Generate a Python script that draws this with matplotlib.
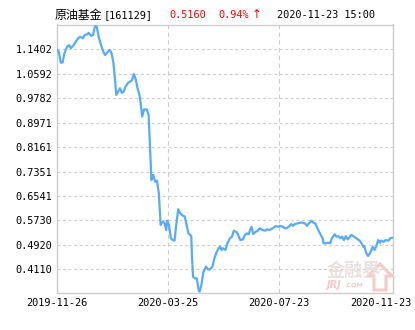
import numpy as np
import pandas as pd
import matplotlib
matplotlib.use('Agg')
import matplotlib.pyplot as plt
from matplotlib.patches import Polygon
from matplotlib.transforms import ScaledTranslation

# net value of 原油基金
dates = [
    '2019-11-26', '2019-11-28', '2019-11-30', '2019-12-02', '2019-12-04', '2019-12-07', '2019-12-09',
    '2019-12-11', '2019-12-14', '2019-12-17', '2019-12-19', '2019-12-21', '2019-12-24', '2019-12-26',
    '2019-12-29', '2019-12-30', '2020-01-02', '2020-01-04', '2020-01-06', '2020-01-08', '2020-01-10',
    '2020-01-12', '2020-01-15', '2020-01-17', '2020-01-20', '2020-01-22', '2020-01-24', '2020-01-26',
    '2020-01-28', '2020-01-29', '2020-01-31', '2020-02-02', '2020-02-04', '2020-02-06', '2020-02-08',
    '2020-02-11', '2020-02-13', '2020-02-15', '2020-02-17', '2020-02-19', '2020-02-21', '2020-02-23',
    '2020-02-24', '2020-02-26', '2020-02-28', '2020-03-02', '2020-03-04', '2020-03-05', '2020-03-06',
    '2020-03-07', '2020-03-09', '2020-03-11', '2020-03-13', '2020-03-15', '2020-03-16', '2020-03-17',
    '2020-03-19', '2020-03-21', '2020-03-23', '2020-03-24', '2020-03-26', '2020-03-28', '2020-03-30',
    '2020-04-01', '2020-04-03', '2020-04-05', '2020-04-07', '2020-04-10', '2020-04-12', '2020-04-14',
    '2020-04-16', '2020-04-19', '2020-04-20', '2020-04-21', '2020-04-23', '2020-04-25', '2020-04-27',
    '2020-04-28', '2020-04-30', '2020-05-02', '2020-05-05', '2020-05-07', '2020-05-09', '2020-05-12',
    '2020-05-14', '2020-05-16', '2020-05-18', '2020-05-20', '2020-05-22', '2020-05-23', '2020-05-26',
    '2020-05-28', '2020-05-31', '2020-06-02', '2020-06-04', '2020-06-07', '2020-06-08', '2020-06-11',
    '2020-06-14', '2020-06-16', '2020-06-18', '2020-06-20', '2020-06-23', '2020-06-25', '2020-06-27',
    '2020-06-30', '2020-07-02', '2020-07-05', '2020-07-08', '2020-07-10', '2020-07-12', '2020-07-15',
    '2020-07-17', '2020-07-19', '2020-07-22', '2020-07-24', '2020-07-27', '2020-07-29', '2020-07-31',
    '2020-08-03', '2020-08-05', '2020-08-07', '2020-08-09', '2020-08-12', '2020-08-15', '2020-08-18',
    '2020-08-20', '2020-08-22', '2020-08-24', '2020-08-27', '2020-08-29', '2020-08-31', '2020-09-02',
    '2020-09-04', '2020-09-06', '2020-09-08', '2020-09-09', '2020-09-11', '2020-09-14', '2020-09-16',
    '2020-09-18', '2020-09-21', '2020-09-23', '2020-09-25', '2020-09-27', '2020-09-29', '2020-10-01',
    '2020-10-03', '2020-10-05', '2020-10-07', '2020-10-09', '2020-10-12', '2020-10-13', '2020-10-16',
    '2020-10-18', '2020-10-20', '2020-10-22', '2020-10-23', '2020-10-25', '2020-10-27', '2020-10-29',
    '2020-10-31', '2020-11-01', '2020-11-03', '2020-11-05', '2020-11-07', '2020-11-09', '2020-11-10',
    '2020-11-13', '2020-11-15', '2020-11-18', '2020-11-20', '2020-11-23',
]
nav = [
    1.138, 1.132, 1.096, 1.096, 1.127, 1.149, 1.154,
    1.144, 1.154, 1.169, 1.177, 1.182, 1.177, 1.188,
    1.190, 1.195, 1.185, 1.188, 1.217, 1.215, 1.182,
    1.160, 1.132, 1.121, 1.132, 1.138, 1.127, 1.094,
    1.028, 0.989, 1.000, 1.011, 0.996, 1.000, 1.016,
    1.030, 1.033, 1.038, 1.058, 1.041, 1.011, 0.989,
    0.972, 0.917, 0.941, 0.941, 0.922, 0.851, 0.784,
    0.707, 0.724, 0.701, 0.705, 0.663, 0.608, 0.558,
    0.569, 0.565, 0.541, 0.572, 0.558, 0.514, 0.508,
    0.506, 0.563, 0.610, 0.597, 0.588, 0.586, 0.558,
    0.530, 0.521, 0.442, 0.386, 0.381, 0.381, 0.342,
    0.337, 0.359, 0.400, 0.420, 0.411, 0.410, 0.420,
    0.447, 0.465, 0.477, 0.486, 0.475, 0.481, 0.475,
    0.497, 0.514, 0.519, 0.539, 0.534, 0.530, 0.508,
    0.510, 0.525, 0.530, 0.527, 0.552, 0.528, 0.534,
    0.539, 0.547, 0.541, 0.539, 0.544, 0.541, 0.545,
    0.549, 0.554, 0.552, 0.555, 0.552, 0.547, 0.547,
    0.554, 0.561, 0.555, 0.561, 0.563, 0.566, 0.565,
    0.563, 0.555, 0.563, 0.572, 0.565, 0.563, 0.550,
    0.536, 0.525, 0.514, 0.497, 0.497, 0.499, 0.497,
    0.514, 0.527, 0.519, 0.521, 0.514, 0.519, 0.508,
    0.521, 0.510, 0.517, 0.525, 0.519, 0.517, 0.510,
    0.506, 0.497, 0.486, 0.488, 0.466, 0.455, 0.464,
    0.477, 0.486, 0.475, 0.488, 0.508, 0.499, 0.506,
    0.502, 0.508, 0.506, 0.514, 0.516,
]

ytick_vals = [1.1402, 1.0592, 0.9782, 0.8971, 0.8161, 0.7351, 0.6541, 0.5730, 0.4920, 0.4110]
xtick_dates = ['2019-11-26', '2020-03-25', '2020-07-23', '2020-11-23']

fund_name = '原油基金'
fund_code = '[161129]'
last_nav = '0.5160'
last_chg = '0.94%'
last_time = '2020-11-23 15:00'

W, H = 415, 330
mono = 'DejaVu Sans Mono'
grid_c = '#cccccc'
line_c = '#58abfa'

fig = plt.figure(figsize=(W / 100, H / 100), dpi=100)
fig.patch.set_facecolor('white')

def px(x, y):
    return x / W, 1 - y / H

# watermark (behind the plot)
fig.text(*px(327, 270), '金融界', fontfamily='Noto Sans CJK SC', fontsize=13, fontweight='bold',
         color='#ebe0e0', va='center', ha='left', zorder=0)
fig.text(*px(327, 284.5), 'JRJ', fontfamily='DejaVu Sans', fontsize=7, fontweight='bold', style='italic',
         color='#f2c8c8', va='center', ha='left', zorder=0)
fig.text(*px(345, 285.5), '.COM', fontfamily='DejaVu Sans', fontsize=4.5, fontweight='bold', style='italic',
         color='#f2c8c8', va='center', ha='left', zorder=0)
arrow = [(380, 264), (392, 276), (386, 276), (386, 290), (374, 290), (374, 276), (368, 276)]
fig.patches.append(Polygon([px(x, y) for x, y in arrow], closed=True, transform=fig.transFigure,
                           facecolor='none', edgecolor='#f4caca', lw=2.2, zorder=0))

left, right, top, bottom = 57, 393, 24.5, 292.7
ax = fig.add_axes([left / W, 1 - bottom / H, (right - left) / W, (bottom - top) / H])
ax.patch.set_alpha(0)

xd = pd.to_datetime(dates)
ax.plot(xd, nav, color=line_c, lw=1.6, solid_joinstyle='round', zorder=3)

ax.set_xlim(pd.Timestamp(xtick_dates[0]), pd.Timestamp(xtick_dates[-1]))
ax.set_ylim(0.3334, 1.2224)

ax.set_yticks(ytick_vals)
ax.set_yticklabels(['%.4f' % v for v in ytick_vals], fontfamily=mono, fontsize=7.4)
ax.set_xticks(pd.to_datetime(xtick_dates))
ax.set_xticklabels(xtick_dates, fontfamily=mono, fontsize=7.4)
ax.tick_params(length=0, pad=4, colors='black')
ax.tick_params(axis='y', pad=3.5)

ax.grid(axis='y', color=grid_c, lw=0.8, linestyle=(0, (2.5, 2.5)))
ax.grid(axis='x', color=grid_c, lw=0.8, linestyle=(0, (4, 3)))
for s in ax.spines.values():
    s.set_color(grid_c)
    s.set_linewidth(1.0)

# last date label pushed left so it stays inside the picture
lab = ax.get_xticklabels()[-1]
lab.set_transform(lab.get_transform() + ScaledTranslation(-0.12, 0, fig.dpi_scale_trans))

# header line
ty = 15
fig.text(*px(55, ty), fund_name, fontfamily='Noto Sans CJK SC', fontsize=8.6, va='center', ha='left')
fig.text(*px(104, ty), fund_code, fontfamily=mono, fontsize=7.4, va='center', ha='left')
fig.text(*px(169, ty), last_nav, fontfamily=mono, fontsize=7.4, va='center', ha='left', color='#ff0000')
fig.text(*px(218, ty), last_chg, fontfamily=mono, fontsize=7.4, va='center', ha='left', color='#ff0000')
fig.text(*px(257, ty), '↑', fontfamily='DejaVu Sans', fontsize=8.5, va='center', ha='center', color='#ff0000')
fig.text(*px(277, ty), last_time, fontfamily=mono, fontsize=7.4, va='center', ha='left')

fig.savefig('out.png', dpi=100, facecolor='white')
